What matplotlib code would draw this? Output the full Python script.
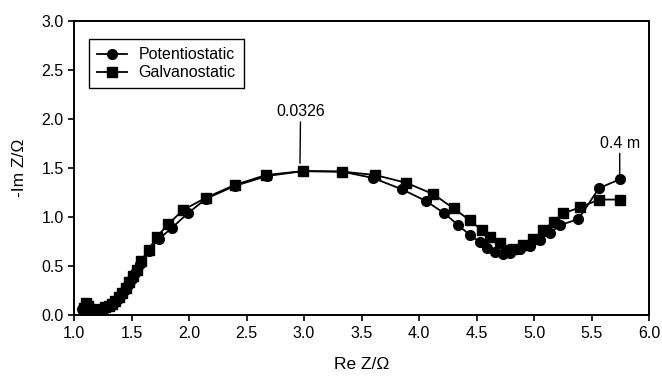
import matplotlib
matplotlib.use('Agg')
import matplotlib.pyplot as plt

plt.rcParams['font.family'] = ['Liberation Sans', 'DejaVu Sans']

# Potentiostatic (circles)
pot_re = [1.07, 1.09, 1.11, 1.14, 1.17, 1.20, 1.23, 1.26, 1.29, 1.32, 1.35, 1.38,
          1.41, 1.44, 1.47, 1.50, 1.53, 1.57, 1.65, 1.74, 1.85, 1.99, 2.15, 2.40,
          2.68, 2.99, 3.33, 3.60, 3.85, 4.06, 4.22, 4.34, 4.44, 4.53, 4.59, 4.66,
          4.73, 4.79, 4.88, 4.965, 5.05, 5.14, 5.226, 5.385, 5.565, 5.748]
pot_im = [0.06, 0.03, 0.02, 0.02, 0.02, 0.03, 0.04, 0.06, 0.08, 0.10, 0.13, 0.17,
          0.21, 0.26, 0.31, 0.37, 0.43, 0.52, 0.66, 0.78, 0.89, 1.04, 1.19, 1.32,
          1.42, 1.47, 1.465, 1.40, 1.285, 1.166, 1.04, 0.92, 0.82, 0.745, 0.69, 0.65,
          0.625, 0.64, 0.673, 0.707, 0.77, 0.84, 0.92, 0.98, 1.296, 1.388]

# Galvanostatic (squares)
gal_re = [1.09, 1.10, 1.12, 1.15, 1.18, 1.21, 1.24, 1.27, 1.30, 1.33, 1.36, 1.39,
          1.42, 1.45, 1.48, 1.51, 1.55, 1.58, 1.65, 1.72, 1.82, 1.95, 2.15, 2.40,
          2.67, 2.99, 3.33, 3.62, 3.89, 4.125, 4.30, 4.44, 4.545, 4.617, 4.70, 4.76,
          4.82, 4.907, 4.99, 5.08, 5.17, 5.255, 5.40, 5.565, 5.748]
gal_im = [0.07, 0.13, 0.10, 0.06, 0.05, 0.05, 0.06, 0.08, 0.10, 0.12, 0.15, 0.19,
          0.23, 0.28, 0.34, 0.40, 0.46, 0.55, 0.67, 0.80, 0.93, 1.075, 1.20, 1.33,
          1.43, 1.47, 1.465, 1.43, 1.35, 1.235, 1.09, 0.97, 0.87, 0.80, 0.735, 0.667,
          0.68, 0.717, 0.775, 0.87, 0.955, 1.04, 1.10, 1.18, 1.18]

fig = plt.figure(figsize=(6.62, 3.76), dpi=100)
ax = fig.add_axes([0.1118, 0.1614, 0.8686, 0.7827])

ax.plot(pot_re, pot_im, color='black', marker='o', markersize=7, lw=1.3,
        label='Potentiostatic')
ax.plot(gal_re, gal_im, color='black', marker='s', markersize=6.5, lw=1.3,
        label='Galvanostatic')

ax.set_xlim(1.0, 6.0)
ax.set_ylim(0.0, 3.0)
ax.set_xticks([1.0, 1.5, 2.0, 2.5, 3.0, 3.5, 4.0, 4.5, 5.0, 5.5, 6.0])
ax.set_yticks([0.0, 0.5, 1.0, 1.5, 2.0, 2.5, 3.0])
ax.xaxis.set_major_formatter(matplotlib.ticker.FormatStrFormatter('%.1f'))
ax.yaxis.set_major_formatter(matplotlib.ticker.FormatStrFormatter('%.1f'))
ax.tick_params(direction='out', length=4, width=1.2, labelsize=11.5, color='black')
for s in ax.spines.values():
    s.set_linewidth(1.4)

ax.set_xlabel('Re Z/\u03a9', fontsize=12.5, labelpad=12)
ax.set_ylabel('-Im Z/\u03a9', fontsize=12.5, labelpad=10)

# frequency annotations
ax.annotate('0.0326', xy=(2.965, 1.55), xytext=(2.97, 2.0), fontsize=11.5,
            ha='center', va='bottom',
            arrowprops=dict(arrowstyle='-', color='black', lw=1.0, shrinkA=0, shrinkB=0))
ax.annotate('0.4 m', xy=(5.745, 1.43), xytext=(5.745, 1.68), fontsize=11.5,
            ha='center', va='bottom',
            arrowprops=dict(arrowstyle='-', color='black', lw=1.0, shrinkA=0, shrinkB=0))

leg = ax.legend(loc='upper left', bbox_to_anchor=(0.012, 0.965), fontsize=11.5,
                frameon=True, fancybox=False, edgecolor='black', framealpha=1,
                handlelength=1.9, borderpad=0.5, labelspacing=0.2, handletextpad=0.7)
leg.get_frame().set_linewidth(1.0)

fig.savefig('out.png', dpi=100)
